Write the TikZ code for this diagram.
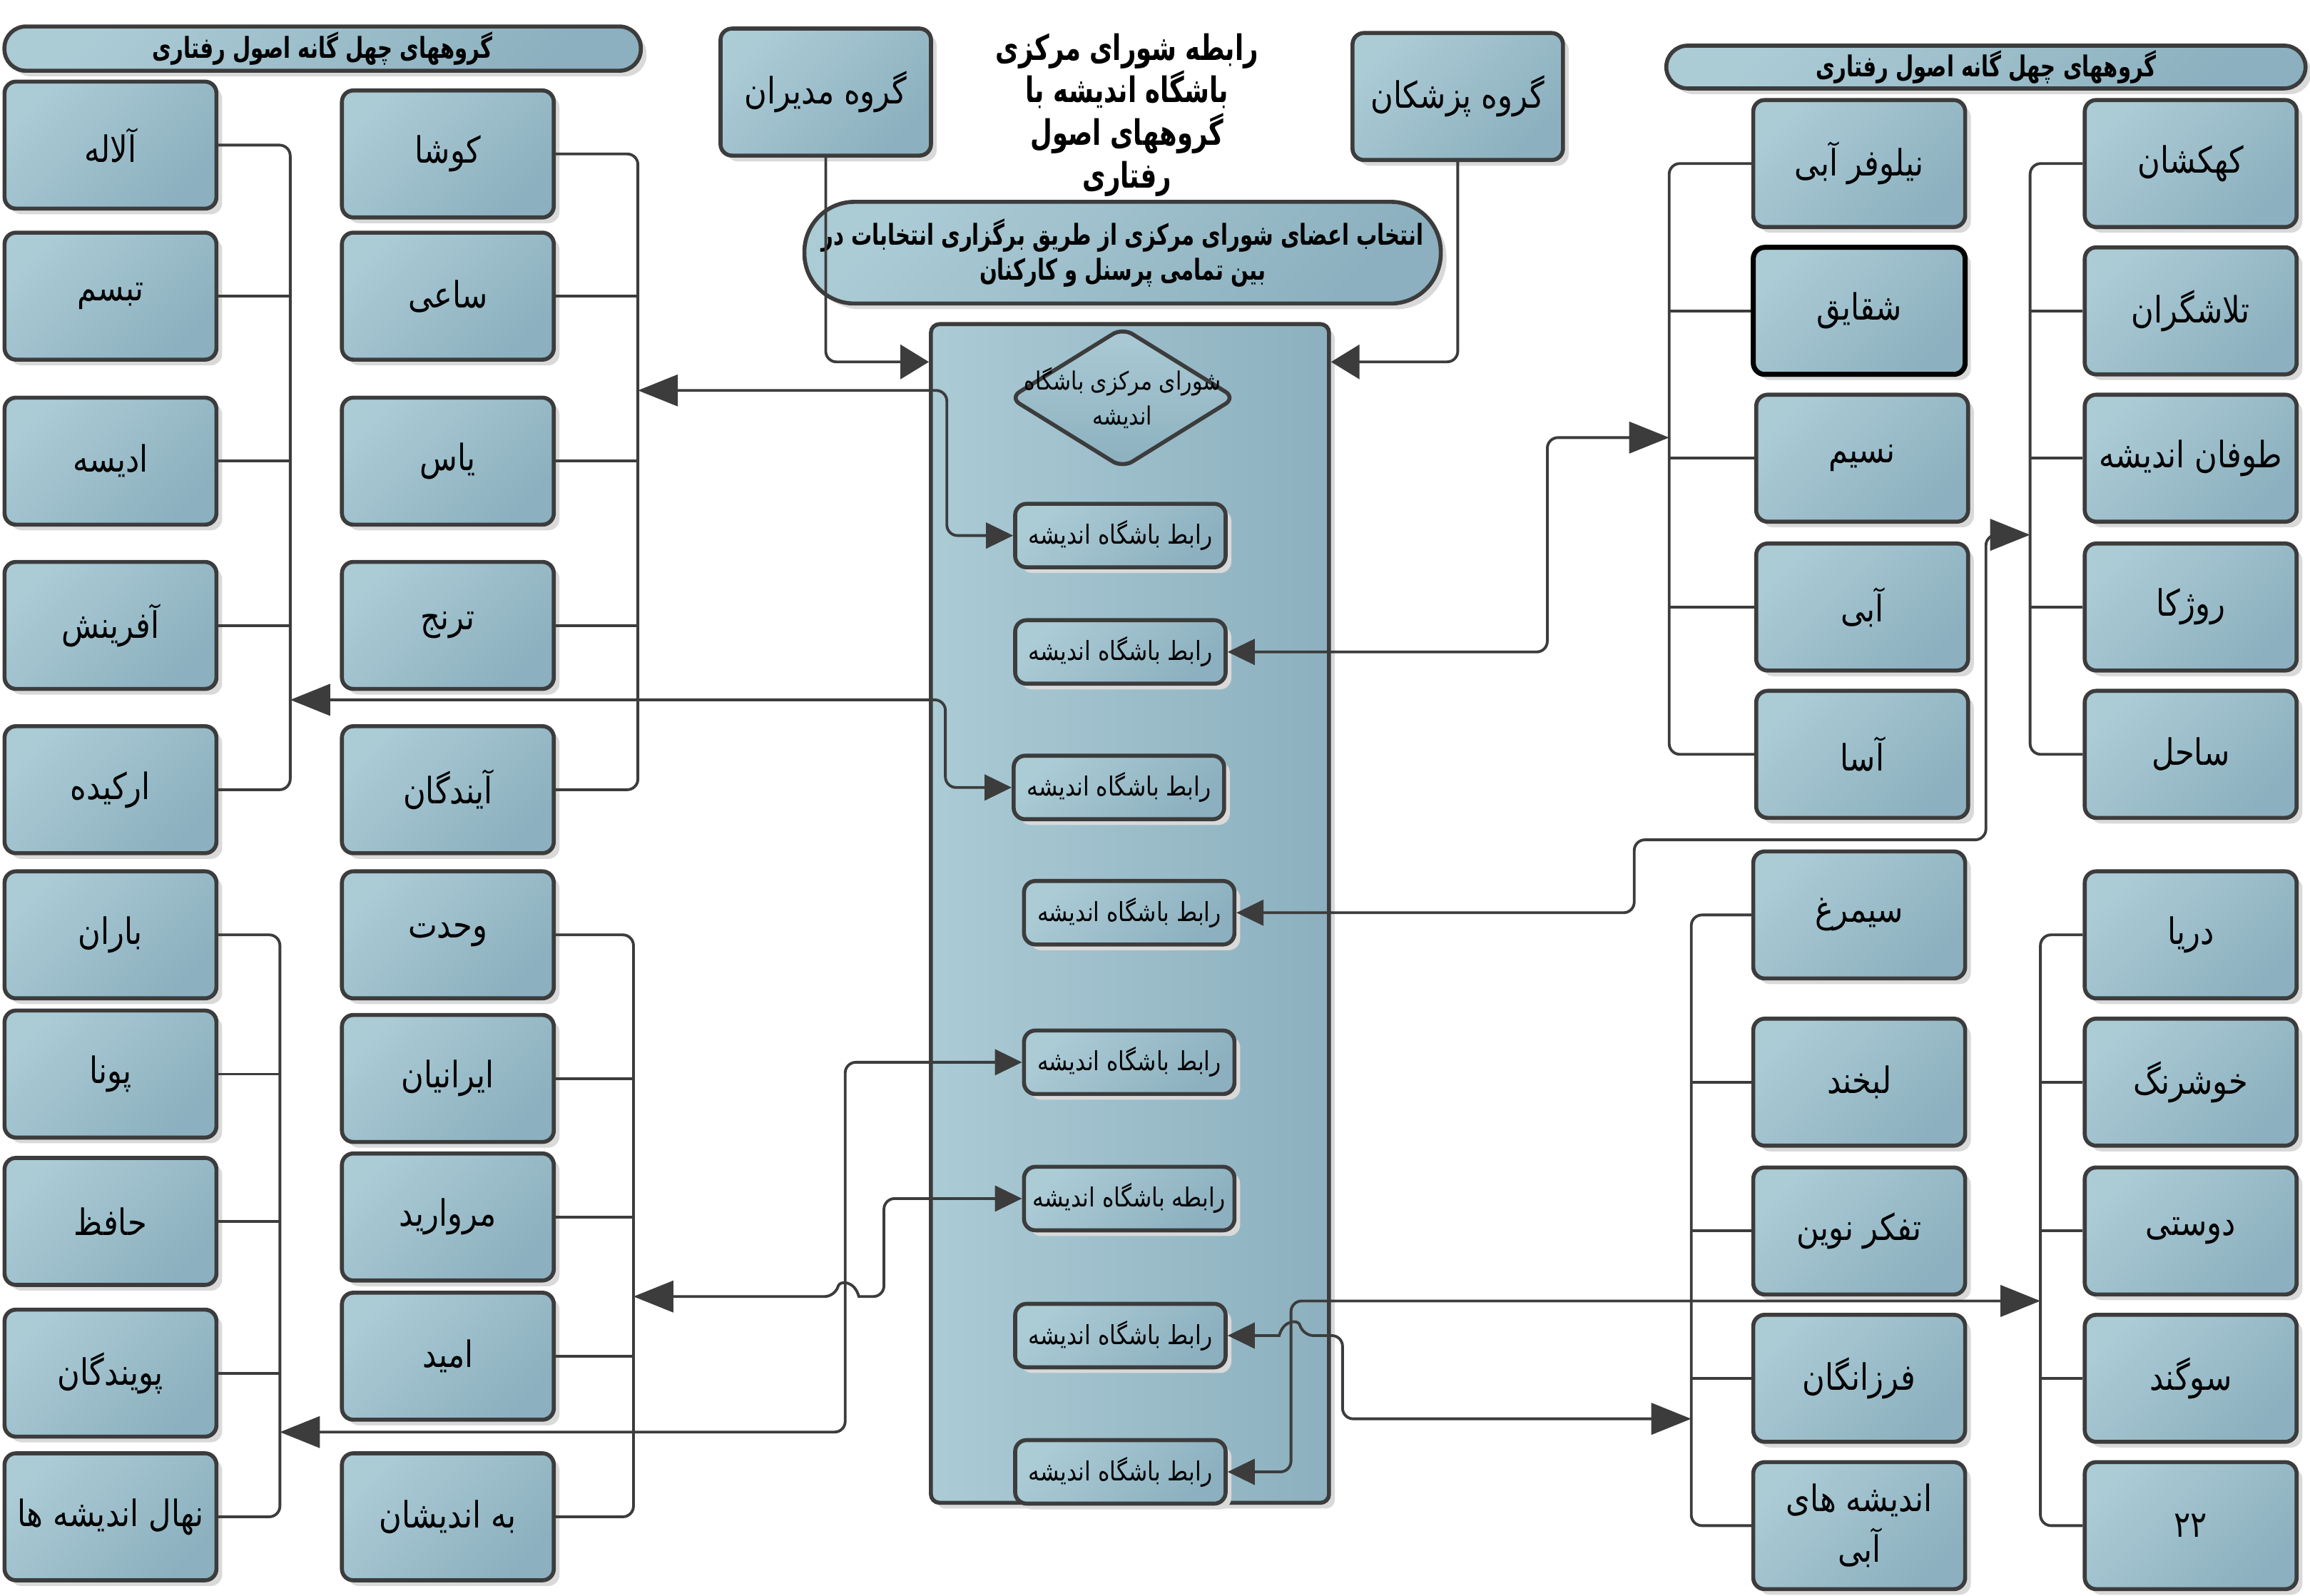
\documentclass[tikz,border=0pt]{standalone}
\usepackage{fontspec}
\usetikzlibrary{shapes.geometric,arrows.meta,shadows,calc}
\newfontfamily\farsi[Script=Arabic,FakeStretch=0.85]{DejaVu Sans}
\newfontfamily\farsibold[Script=Arabic,FakeStretch=0.72]{DejaVu Sans Bold}
\TeXXeTstate=1
\newcommand{\rtl}[1]{\beginR #1\endR}
\definecolor{boxlight}{HTML}{ABCBD5}
\definecolor{boxdark}{HTML}{8CB0BF}
\definecolor{linegray}{HTML}{3C3C3C}

\begin{document}
\begin{tikzpicture}[x=0.2065mm,y=-0.2065mm,
    group/.style={draw=linegray,line width=1.6pt,rounded corners=1.6mm,
      top color=boxlight,bottom color=boxdark,shading angle=45,
      drop shadow={shadow xshift=0.8mm,shadow yshift=-0.8mm,fill=black!15,opacity=1},
      minimum width=29.7mm,minimum height=17.8mm,inner sep=1pt,align=center,
      font=\farsi\fontsize{14.5}{20}\selectfont},
    rabet/.style={group,minimum width=29.5mm,minimum height=8.9mm,
      font=\farsi\fontsize{10.5}{13}\selectfont},
    banner/.style={group,font=\farsibold\fontsize{11.5}{14}\selectfont},
    link/.style={draw=linegray,line width=1.1pt,rounded corners=1.5mm,
      {Triangle[length=5.6mm,width=4.4mm]}-{Triangle[length=3.8mm,width=3.6mm]}},
    feed/.style={draw=linegray,line width=1.1pt,rounded corners=1.5mm,
      -{Triangle[length=4mm,width=4.8mm]}},
    bus/.style={draw=linegray,line width=1.1pt,rounded corners=1.5mm}]
\useasboundingbox (0,0) rectangle (1568,1082.8);

% headers
\node[banner,minimum width=89.2mm,minimum height=6.2mm,rounded corners=3mm] (headL) at (219,33) {\rtl{گروههای چهل گانه اصول رفتاری}};
\node[banner,minimum width=89.6mm,minimum height=6mm,rounded corners=3mm] (headR) at (1348,45.5) {\rtl{گروههای چهل گانه اصول رفتاری}};
\node[align=center,font=\farsibold\fontsize{14}{17}\selectfont] (title) at (765,78) {\rtl{رابطه شورای مرکزی}\\\rtl{باشگاه اندیشه با}\\\rtl{گروههای اصول}\\\rtl{رفتاری}};
\node[group,minimum width=29.5mm] (modir) at (560.5,62.5) {\rtl{گروه مدیران}};
\node[group,minimum width=29.5mm] (pezeshk) at (989.5,65.5) {\rtl{گروه پزشکان}};
\node[banner,minimum width=89.2mm,minimum height=14.25mm,rounded corners=7mm] (vote) at (762,171.5) {\rtl{انتخاب اعضای شورای مرکزی از طریق برگزاری انتخابات در}\\\rtl{بین تمامی پرسنل و کارکنان}};

% central council
\node[draw=linegray,line width=1.6pt,rounded corners=1.2mm,left color=boxlight,right color=boxdark,
  drop shadow={shadow xshift=0.8mm,shadow yshift=-0.8mm,fill=black!15,opacity=1},
  minimum width=55.8mm,minimum height=165.2mm] (core) at (767,620) {};
\node[diamond,draw=linegray,line width=1.6pt,rounded corners=1.6mm,top color=boxlight,bottom color=boxdark,
  minimum width=31.8mm,minimum height=19.8mm,inner sep=0pt] (council) at (762,270) {};
\node[align=center,font=\farsi\fontsize{10}{14}\selectfont] (councilname) at (council) {\rtl{شورای مرکزی باشگاه}\\\rtl{اندیشه}};
\node[rabet] (r1) at (760.5,363.5) {\rtl{رابط باشگاه اندیشه}};
\node[rabet] (r2) at (760.5,442.5) {\rtl{رابط باشگاه اندیشه}};
\node[rabet] (r3) at (759.5,534.5) {\rtl{رابط باشگاه اندیشه}};
\node[rabet] (r4) at (766.5,619.5) {\rtl{رابط باشگاه اندیشه}};
\node[rabet] (r5) at (766.5,721) {\rtl{رابط باشگاه اندیشه}};
\node[rabet] (r6) at (766.5,813.5) {\rtl{رابطه باشگاه اندیشه}};
\node[rabet] (r7) at (760.5,906.5) {\rtl{رابط باشگاه اندیشه}};
\node[rabet] (r8) at (760.5,999) {\rtl{رابط باشگاه اندیشه}};

% left groups
\node[group] (alale) at (75,98.5) {\rtl{آلاله}};
\node[group] (tabassom) at (75,201) {\rtl{تبسم}};
\node[group] (odise) at (75,313) {\rtl{ادیسه}};
\node[group] (afarinesh) at (75,424.5) {\rtl{آفرینش}};
\node[group] (orkide) at (75,536) {\rtl{ارکیده}};
\node[group] (baran) at (75,634.5) {\rtl{باران}};
\node[group] (pouna) at (75,729) {\rtl{پونا}};
\node[group] (hafez) at (75,829) {\rtl{حافظ}};
\node[group] (pouyandegan) at (75,932) {\rtl{پویندگان}};
\node[group] (nahal) at (75,1029.5) {\rtl{نهال اندیشه ها}};

\node[group] (kousha) at (304,104.5) {\rtl{کوشا}};
\node[group] (saei) at (304,201) {\rtl{ساعی}};
\node[group] (yas) at (304,313) {\rtl{یاس}};
\node[group] (toranj) at (304,424.5) {\rtl{ترنج}};
\node[group] (ayandegan) at (304,536) {\rtl{آیندگان}};
\node[group] (vahdat) at (304,634.5) {\rtl{وحدت}};
\node[group] (iranian) at (304,732) {\rtl{ایرانیان}};
\node[group] (morvarid) at (304,826) {\rtl{مروارید}};
\node[group] (omid) at (304,920.5) {\rtl{امید}};
\node[group] (behandishan) at (304,1029.5) {\rtl{به اندیشان}};

% right groups
\node[group] (niloofar) at (1262,111) {\rtl{نیلوفر آبی}};
\node[group,draw=black,line width=2pt] (shaghayegh) at (1262,211) {\rtl{شقایق}};
\node[group] (nasim) at (1264,311) {\rtl{نسیم}};
\node[group] (abi) at (1264,412) {\rtl{آبی}};
\node[group] (asa) at (1264,512) {\rtl{آسا}};
\node[group] (kahkeshan) at (1487,111) {\rtl{کهکشان}};
\node[group] (talashgaran) at (1487,211) {\rtl{تلاشگران}};
\node[group] (toofan) at (1487,311) {\rtl{طوفان اندیشه}};
\node[group] (rozhka) at (1487,412) {\rtl{روژکا}};
\node[group] (sahel) at (1487,512) {\rtl{ساحل}};

\node[group] (simorgh) at (1262,621) {\rtl{سیمرغ}};
\node[group] (labkhand) at (1262,734.5) {\rtl{لبخند}};
\node[group] (tafakkor) at (1262,835.5) {\rtl{تفکر نوین}};
\node[group] (farzanegan) at (1262,935.5) {\rtl{فرزانگان}};
\node[group] (andishe) at (1262,1035.5) {\rtl{اندیشه های}\\\rtl{آبی}};
\node[group] (darya) at (1487,634.5) {\rtl{دریا}};
\node[group] (khoshrang) at (1487,734.5) {\rtl{خوشرنگ}};
\node[group] (dousti) at (1487,835.5) {\rtl{دوستی}};
\node[group] (sogand) at (1487,935.5) {\rtl{سوگند}};
\node[group] (bistodo) at (1487,1035.5) {\rtl{۲۲}};

% buses
\coordinate (busA) at (197,0);
\coordinate (busB) at (433,0);
\coordinate (busC) at (190,0);
\coordinate (busD) at (430,0);
\coordinate (busE) at (1133,0);
\coordinate (busF) at (1378,0);
\coordinate (busG) at (1148,0);
\coordinate (busH) at (1385,0);

\draw[bus] (alale.east) -| (busA |- orkide.east) -- (orkide.east);
\foreach \n in {tabassom,odise,afarinesh} \draw[bus] (\n.east) -- (\n.east -| busA);
\draw[bus] (kousha.east) -| (busB |- ayandegan.east) -- (ayandegan.east);
\foreach \n in {saei,yas,toranj} \draw[bus] (\n.east) -- (\n.east -| busB);
\draw[bus] (baran.east) -| (busC |- nahal.east) -- (nahal.east);
\foreach \n in {pouna,hafez,pouyandegan} \draw[bus] (\n.east) -- (\n.east -| busC);
\draw[bus] (vahdat.east) -| (busD |- behandishan.east) -- (behandishan.east);
\foreach \n in {iranian,morvarid,omid} \draw[bus] (\n.east) -- (\n.east -| busD);

\draw[bus] (niloofar.west) -| (busE |- asa.west) -- (asa.west);
\foreach \n in {shaghayegh,nasim,abi} \draw[bus] (\n.west) -- (\n.west -| busE);
\draw[bus] (kahkeshan.west) -| (busF |- sahel.west) -- (sahel.west);
\foreach \n in {talashgaran,toofan,rozhka} \draw[bus] (\n.west) -- (\n.west -| busF);
\draw[bus] (simorgh.west) -| (busG |- andishe.west) -- (andishe.west);
\foreach \n in {labkhand,tafakkor,farzanegan} \draw[bus] (\n.west) -- (\n.west -| busG);
\draw[bus] (darya.west) -| (busH |- bistodo.west) -- (bistodo.west);
\foreach \n in {khoshrang,dousti,sogand} \draw[bus] (\n.west) -- (\n.west -| busH);

% council inputs
\draw[feed] (modir.south) |- ($(core.north west)+(0,27)$);
\draw[feed] (pezeshk.south) |- ($(core.north east)+(0,27)$);

% links
\coordinate (jA) at (197,475);
\coordinate (jB) at (433,265);
\coordinate (jC) at (190,972);
\coordinate (jD) at (430,880);
\coordinate (jE) at (1133,297);
\coordinate (jF) at (1378,363);
\coordinate (jG) at (1148,963);
\coordinate (jH) at (1385,883);

\draw[link] (jB) -| ($(r1.west)+(-45,0)$) -- (r1.west);
\draw[link] (jA) -| ($(r3.west)+(-45,0)$) -- (r3.west);
\draw[link] (jC) -| ($(r5.west)+(-120,0)$) -- (r5.west);
\draw[link] (jD) -- ++(137,0) [sharp corners] .. controls ++(3,-11) and ++(-3,-11) .. ++(16,0) [rounded corners=1.5mm] -- ++(17,0) |- (r6.west);
\draw[link] (jE) -| ($(r2.east)+(217,0)$) -- (r2.east);
\draw[link] (jF) -- ++(-30,0) |- ($(r4.east)+(270,-49.5)$) |- (r4.east);
\draw[link] (jG) -| ($(r7.east)+(78,0)$) -- ++(-27,0) [sharp corners] .. controls ++(-3,-11) and ++(3,-11) .. ++(-16,0) [rounded corners=1.5mm] -- (r7.east);
\draw[link] (jH) -| ($(r8.east)+(43,0)$) -- (r8.east);
\end{tikzpicture}
\end{document}
